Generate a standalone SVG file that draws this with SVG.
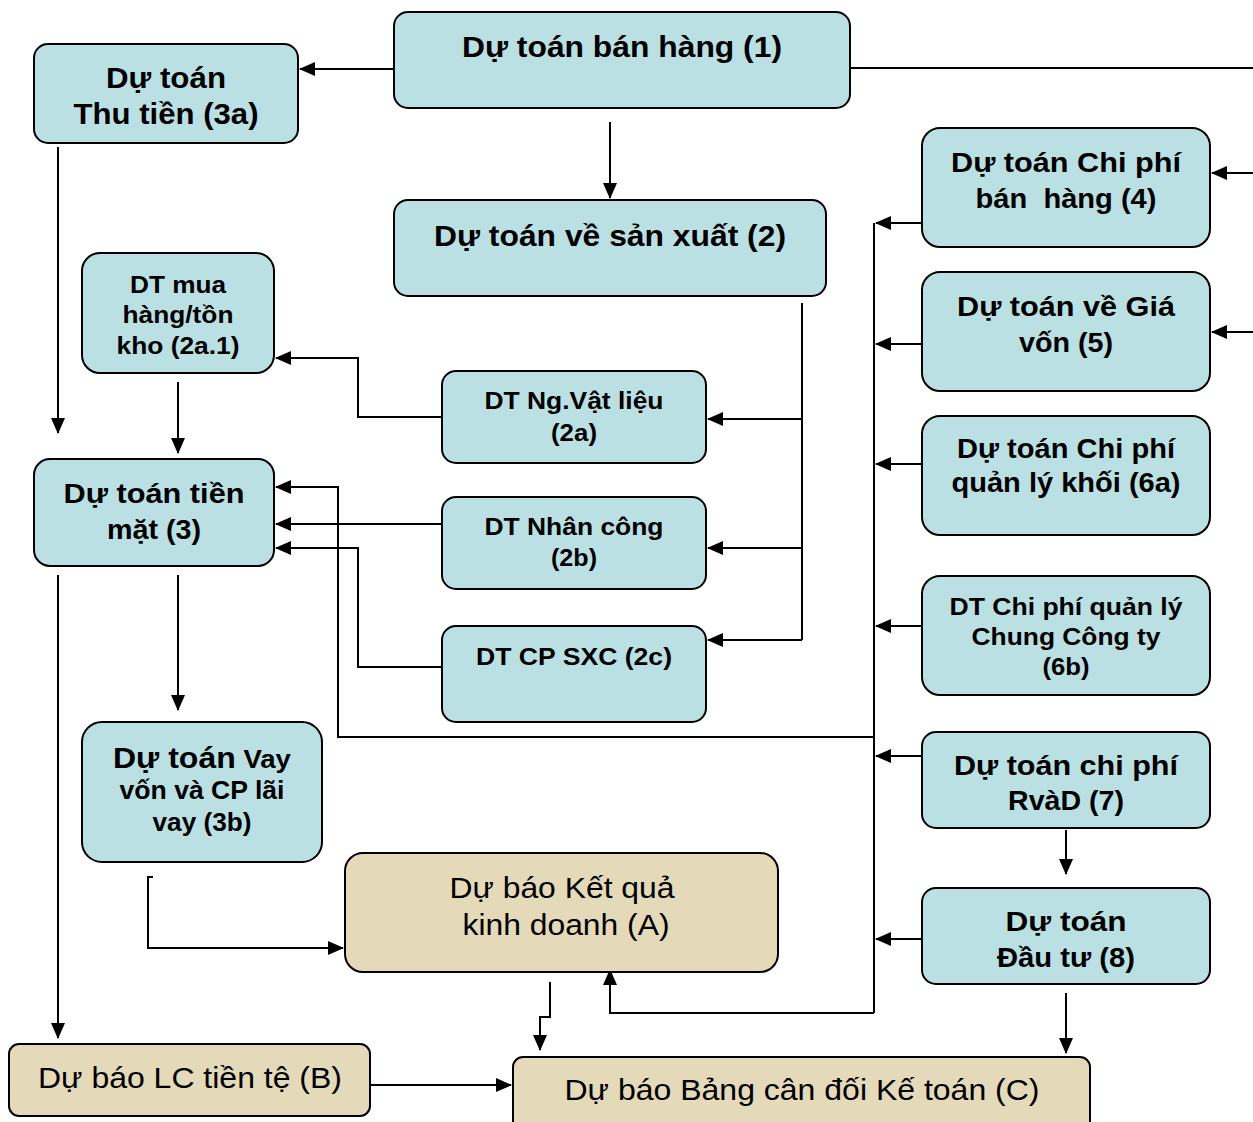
<svg xmlns="http://www.w3.org/2000/svg" width="1253" height="1122" viewBox="0 0 1253 1122">
<style>
.b{fill:#bbe0e3;stroke:#000;stroke-width:2}
.t{fill:#e4d9b9;stroke:#000;stroke-width:2}
text{font-family:"Liberation Sans",Arial,sans-serif;text-anchor:middle;fill:#000}
.bd{font-weight:bold}
.c{fill:none;stroke:#000;stroke-width:2}
</style>
<defs>
<marker id="a" markerUnits="userSpaceOnUse" markerWidth="16" markerHeight="14" refX="15" refY="7" orient="auto">
<path d="M0,0 L16,7 L0,14 Z" fill="#000"/>
</marker>
</defs>
<rect width="1253" height="1122" fill="#fff"/>
<g id="connectors">
<path class="c" d="M394,69 H300" marker-end="url(#a)"/>
<path class="c" d="M850,68 H1253"/>
<path class="c" d="M1253,173 H1212" marker-end="url(#a)"/>
<path class="c" d="M1253,332 H1212" marker-end="url(#a)"/>
<path class="c" d="M610,122 V198" marker-end="url(#a)"/>
<path class="c" d="M58,147 V433" marker-end="url(#a)"/>
<path class="c" d="M178,382 V453" marker-end="url(#a)"/>
<path class="c" d="M802,303 V640"/>
<path class="c" d="M802,419 H708" marker-end="url(#a)"/>
<path class="c" d="M802,548 H708" marker-end="url(#a)"/>
<path class="c" d="M802,640 H708" marker-end="url(#a)"/>
<path class="c" d="M442,417 H358 V358 H276" marker-end="url(#a)"/>
<path class="c" d="M442,524 H276" marker-end="url(#a)"/>
<path class="c" d="M442,667 H358 V548 H276" marker-end="url(#a)"/>
<path class="c" d="M874,223 V1013"/>
<path class="c" d="M922,223 H876" marker-end="url(#a)"/>
<path class="c" d="M922,344 H876" marker-end="url(#a)"/>
<path class="c" d="M922,464 H876" marker-end="url(#a)"/>
<path class="c" d="M922,626 H876" marker-end="url(#a)"/>
<path class="c" d="M922,756 H876" marker-end="url(#a)"/>
<path class="c" d="M922,939 H876" marker-end="url(#a)"/>
<path class="c" d="M874,737 H338 V487 H276" marker-end="url(#a)"/>
<path class="c" d="M874,1013 H610 V970" marker-end="url(#a)"/>
<path class="c" d="M178,575 V710" marker-end="url(#a)"/>
<path class="c" d="M58,575 V1038" marker-end="url(#a)"/>
<path class="c" d="M153,877 H148 V948 H343" marker-end="url(#a)"/>
<path class="c" d="M550,982 V1017 H540 V1050" marker-end="url(#a)"/>
<path class="c" d="M370,1085 H511" marker-end="url(#a)"/>
<path class="c" d="M1066,830 V874" marker-end="url(#a)"/>
<path class="c" d="M1066,993 V1053" marker-end="url(#a)"/>
</g>
<g id="n1"><rect class="b" x="394" y="12" width="456" height="96" rx="14"/>
<text class="bd" x="622" y="57" font-size="30" textLength="320" lengthAdjust="spacingAndGlyphs">Dự toán bán hàng (1)</text></g>
<g id="n3a"><rect class="b" x="34" y="44" width="264" height="99" rx="14"/>
<text class="bd" x="166" y="88" font-size="29" textLength="120" lengthAdjust="spacingAndGlyphs">Dự toán</text>
<text class="bd" x="166" y="124" font-size="29" textLength="185" lengthAdjust="spacingAndGlyphs">Thu tiền (3a)</text></g>
<g id="n2"><rect class="b" x="394" y="200" width="432" height="96" rx="14"/>
<text class="bd" x="610" y="246" font-size="29" textLength="352" lengthAdjust="spacingAndGlyphs">Dự toán về sản xuất (2)</text></g>
<g id="n2a1"><rect class="b" x="82" y="253" width="192" height="120" rx="18"/>
<text class="bd" x="178" y="293" font-size="24" textLength="96" lengthAdjust="spacingAndGlyphs">DT mua</text>
<text class="bd" x="178" y="323" font-size="24" textLength="111" lengthAdjust="spacingAndGlyphs">hàng/tồn</text>
<text class="bd" x="178" y="354" font-size="24" textLength="123" lengthAdjust="spacingAndGlyphs">kho (2a.1)</text></g>
<g id="n2a"><rect class="b" x="442" y="371" width="264" height="92" rx="14"/>
<text class="bd" x="574" y="409" font-size="24" textLength="179" lengthAdjust="spacingAndGlyphs">DT Ng.Vật liệu</text>
<text class="bd" x="574" y="441" font-size="24" textLength="46" lengthAdjust="spacingAndGlyphs">(2a)</text></g>
<g id="n3"><rect class="b" x="34" y="459" width="240" height="107" rx="16"/>
<text class="bd" x="154" y="503" font-size="28" textLength="181" lengthAdjust="spacingAndGlyphs">Dự toán tiền</text>
<text class="bd" x="154" y="539" font-size="28" textLength="94" lengthAdjust="spacingAndGlyphs">mặt (3)</text></g>
<g id="n2b"><rect class="b" x="442" y="497" width="264" height="92" rx="14"/>
<text class="bd" x="574" y="535" font-size="24" textLength="179" lengthAdjust="spacingAndGlyphs">DT Nhân công</text>
<text class="bd" x="574" y="566" font-size="24" textLength="46" lengthAdjust="spacingAndGlyphs">(2b)</text></g>
<g id="n2c"><rect class="b" x="442" y="626" width="264" height="96" rx="14"/>
<text class="bd" x="574" y="665" font-size="24" textLength="196" lengthAdjust="spacingAndGlyphs">DT CP SXC (2c)</text></g>
<g id="n3b"><rect class="b" x="82" y="722" width="240" height="140" rx="20"/>
<text class="bd" x="202" y="768" font-size="25" textLength="178" lengthAdjust="spacingAndGlyphs"><tspan font-size="29">Dự toán</tspan> Vay</text>
<text class="bd" x="202" y="799" font-size="25" textLength="165" lengthAdjust="spacingAndGlyphs">vốn và CP lãi</text>
<text class="bd" x="202" y="831" font-size="25" textLength="99" lengthAdjust="spacingAndGlyphs">vay (3b)</text></g>
<g id="nA"><rect class="t" x="345" y="853" width="433" height="119" rx="18"/>
<text x="562" y="898" font-size="30" textLength="225" lengthAdjust="spacingAndGlyphs">Dự báo Kết quả</text>
<text x="566" y="935" font-size="30" textLength="207" lengthAdjust="spacingAndGlyphs">kinh doanh (A)</text></g>
<g id="nB"><rect class="t" x="9" y="1044" width="361" height="72" rx="10"/>
<text x="190" y="1088" font-size="30" textLength="304" lengthAdjust="spacingAndGlyphs">Dự báo LC tiền tệ (B)</text></g>
<g id="nC"><rect class="t" x="513" y="1057" width="577" height="80" rx="10"/>
<text x="802" y="1100" font-size="30" textLength="475" lengthAdjust="spacingAndGlyphs">Dự báo Bảng cân đối Kế toán (C)</text></g>
<g id="n4"><rect class="b" x="922" y="128" width="288" height="119" rx="18"/>
<text class="bd" x="1066" y="172" font-size="28" textLength="230" lengthAdjust="spacingAndGlyphs">Dự toán Chi phí</text>
<text class="bd" x="1066" y="208" font-size="28" xml:space="preserve" textLength="181" lengthAdjust="spacingAndGlyphs">bán  hàng (4)</text></g>
<g id="n5"><rect class="b" x="922" y="272" width="288" height="119" rx="18"/>
<text class="bd" x="1066" y="316" font-size="28" textLength="218" lengthAdjust="spacingAndGlyphs">Dự toán về Giá</text>
<text class="bd" x="1066" y="352" font-size="28" textLength="94" lengthAdjust="spacingAndGlyphs">vốn (5)</text></g>
<g id="n6a"><rect class="b" x="922" y="416" width="288" height="119" rx="18"/>
<text class="bd" x="1066" y="458" font-size="27" textLength="218" lengthAdjust="spacingAndGlyphs">Dự toán Chi phí</text>
<text class="bd" x="1066" y="492" font-size="27" textLength="229" lengthAdjust="spacingAndGlyphs">quản lý khối (6a)</text></g>
<g id="n6b"><rect class="b" x="922" y="576" width="288" height="119" rx="18"/>
<text class="bd" x="1066" y="615" font-size="24" textLength="233" lengthAdjust="spacingAndGlyphs">DT Chi phí quản lý</text>
<text class="bd" x="1066" y="645" font-size="24" textLength="189" lengthAdjust="spacingAndGlyphs">Chung Công ty</text>
<text class="bd" x="1066" y="675" font-size="24" textLength="47" lengthAdjust="spacingAndGlyphs">(6b)</text></g>
<g id="n7"><rect class="b" x="922" y="732" width="288" height="96" rx="14"/>
<text class="bd" x="1066" y="775" font-size="28" textLength="224" lengthAdjust="spacingAndGlyphs">Dự toán chi phí</text>
<text class="bd" x="1066" y="810" font-size="28" textLength="116" lengthAdjust="spacingAndGlyphs">RvàD (7)</text></g>
<g id="n8"><rect class="b" x="922" y="888" width="288" height="96" rx="14"/>
<text class="bd" x="1066" y="931" font-size="28" textLength="121" lengthAdjust="spacingAndGlyphs">Dự toán</text>
<text class="bd" x="1066" y="967" font-size="28" textLength="138" lengthAdjust="spacingAndGlyphs">Đầu tư (8)</text></g>
</svg>
